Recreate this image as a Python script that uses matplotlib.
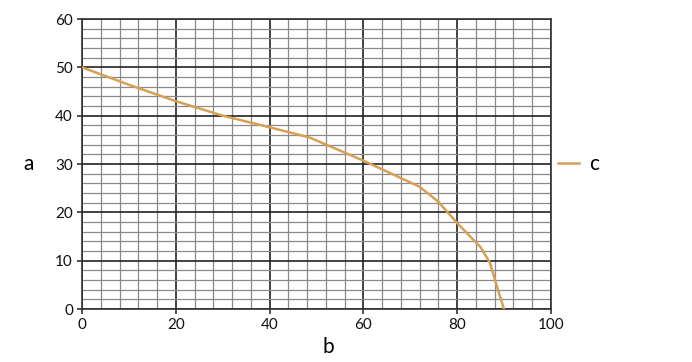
import matplotlib
matplotlib.use("Agg")
import matplotlib.pyplot as plt
from matplotlib.ticker import MultipleLocator

plt.rcParams['font.family'] = ['Lato', 'DejaVu Sans']

b_vals = [0, 10, 20, 30, 40, 48.5, 60, 72, 76, 80, 85, 87, 88.4, 90]
a_vals = [50, 46.4, 43, 40, 37.6, 35.5, 30.7, 25.3, 22.2, 17.8, 12.8, 9.6, 5.0, 0]
x_ticks = [0, 20, 40, 60, 80, 100]
y_ticks = [0, 10, 20, 30, 40, 50, 60]
series_name = "c"

fig = plt.figure(figsize=(6.92, 3.62), dpi=100)
ax = fig.add_axes([0.1185, 0.1464, 0.6775, 0.8011])

ax.plot(b_vals, a_vals, color="#d6a055", lw=1.8, label=series_name, zorder=3)

ax.set_xlim(0, 100)
ax.set_ylim(0, 60)
ax.set_xticks(x_ticks)
ax.set_yticks(y_ticks)
ax.xaxis.set_minor_locator(MultipleLocator(4))
ax.yaxis.set_minor_locator(MultipleLocator(2))
ax.grid(which="minor", color="#8a8a8a", lw=0.9)
ax.grid(which="major", color="#222222", lw=1.2)
ax.set_axisbelow(True)
for s in ax.spines.values():
    s.set_color("#333333")
    s.set_linewidth(1.2)
ax.tick_params(which="major", length=3.5, width=1.2, color="#333333",
               labelsize=11, pad=3, labelcolor="#111111")
ax.tick_params(which="minor", length=0)

ax.set_xlabel("b", fontsize=15)
ax.set_ylabel("a", fontsize=15, rotation=0, va="center", ha="center")
ax.yaxis.set_label_coords(-0.115, 0.5)
ax.xaxis.set_label_coords(0.525, -0.095)

leg = ax.legend(loc="center left", bbox_to_anchor=(1.015, 0.5), frameon=False,
                fontsize=15, handlelength=1.0, handletextpad=0.5,
                borderaxespad=0, borderpad=0)

fig.savefig("out.png", dpi=100)
